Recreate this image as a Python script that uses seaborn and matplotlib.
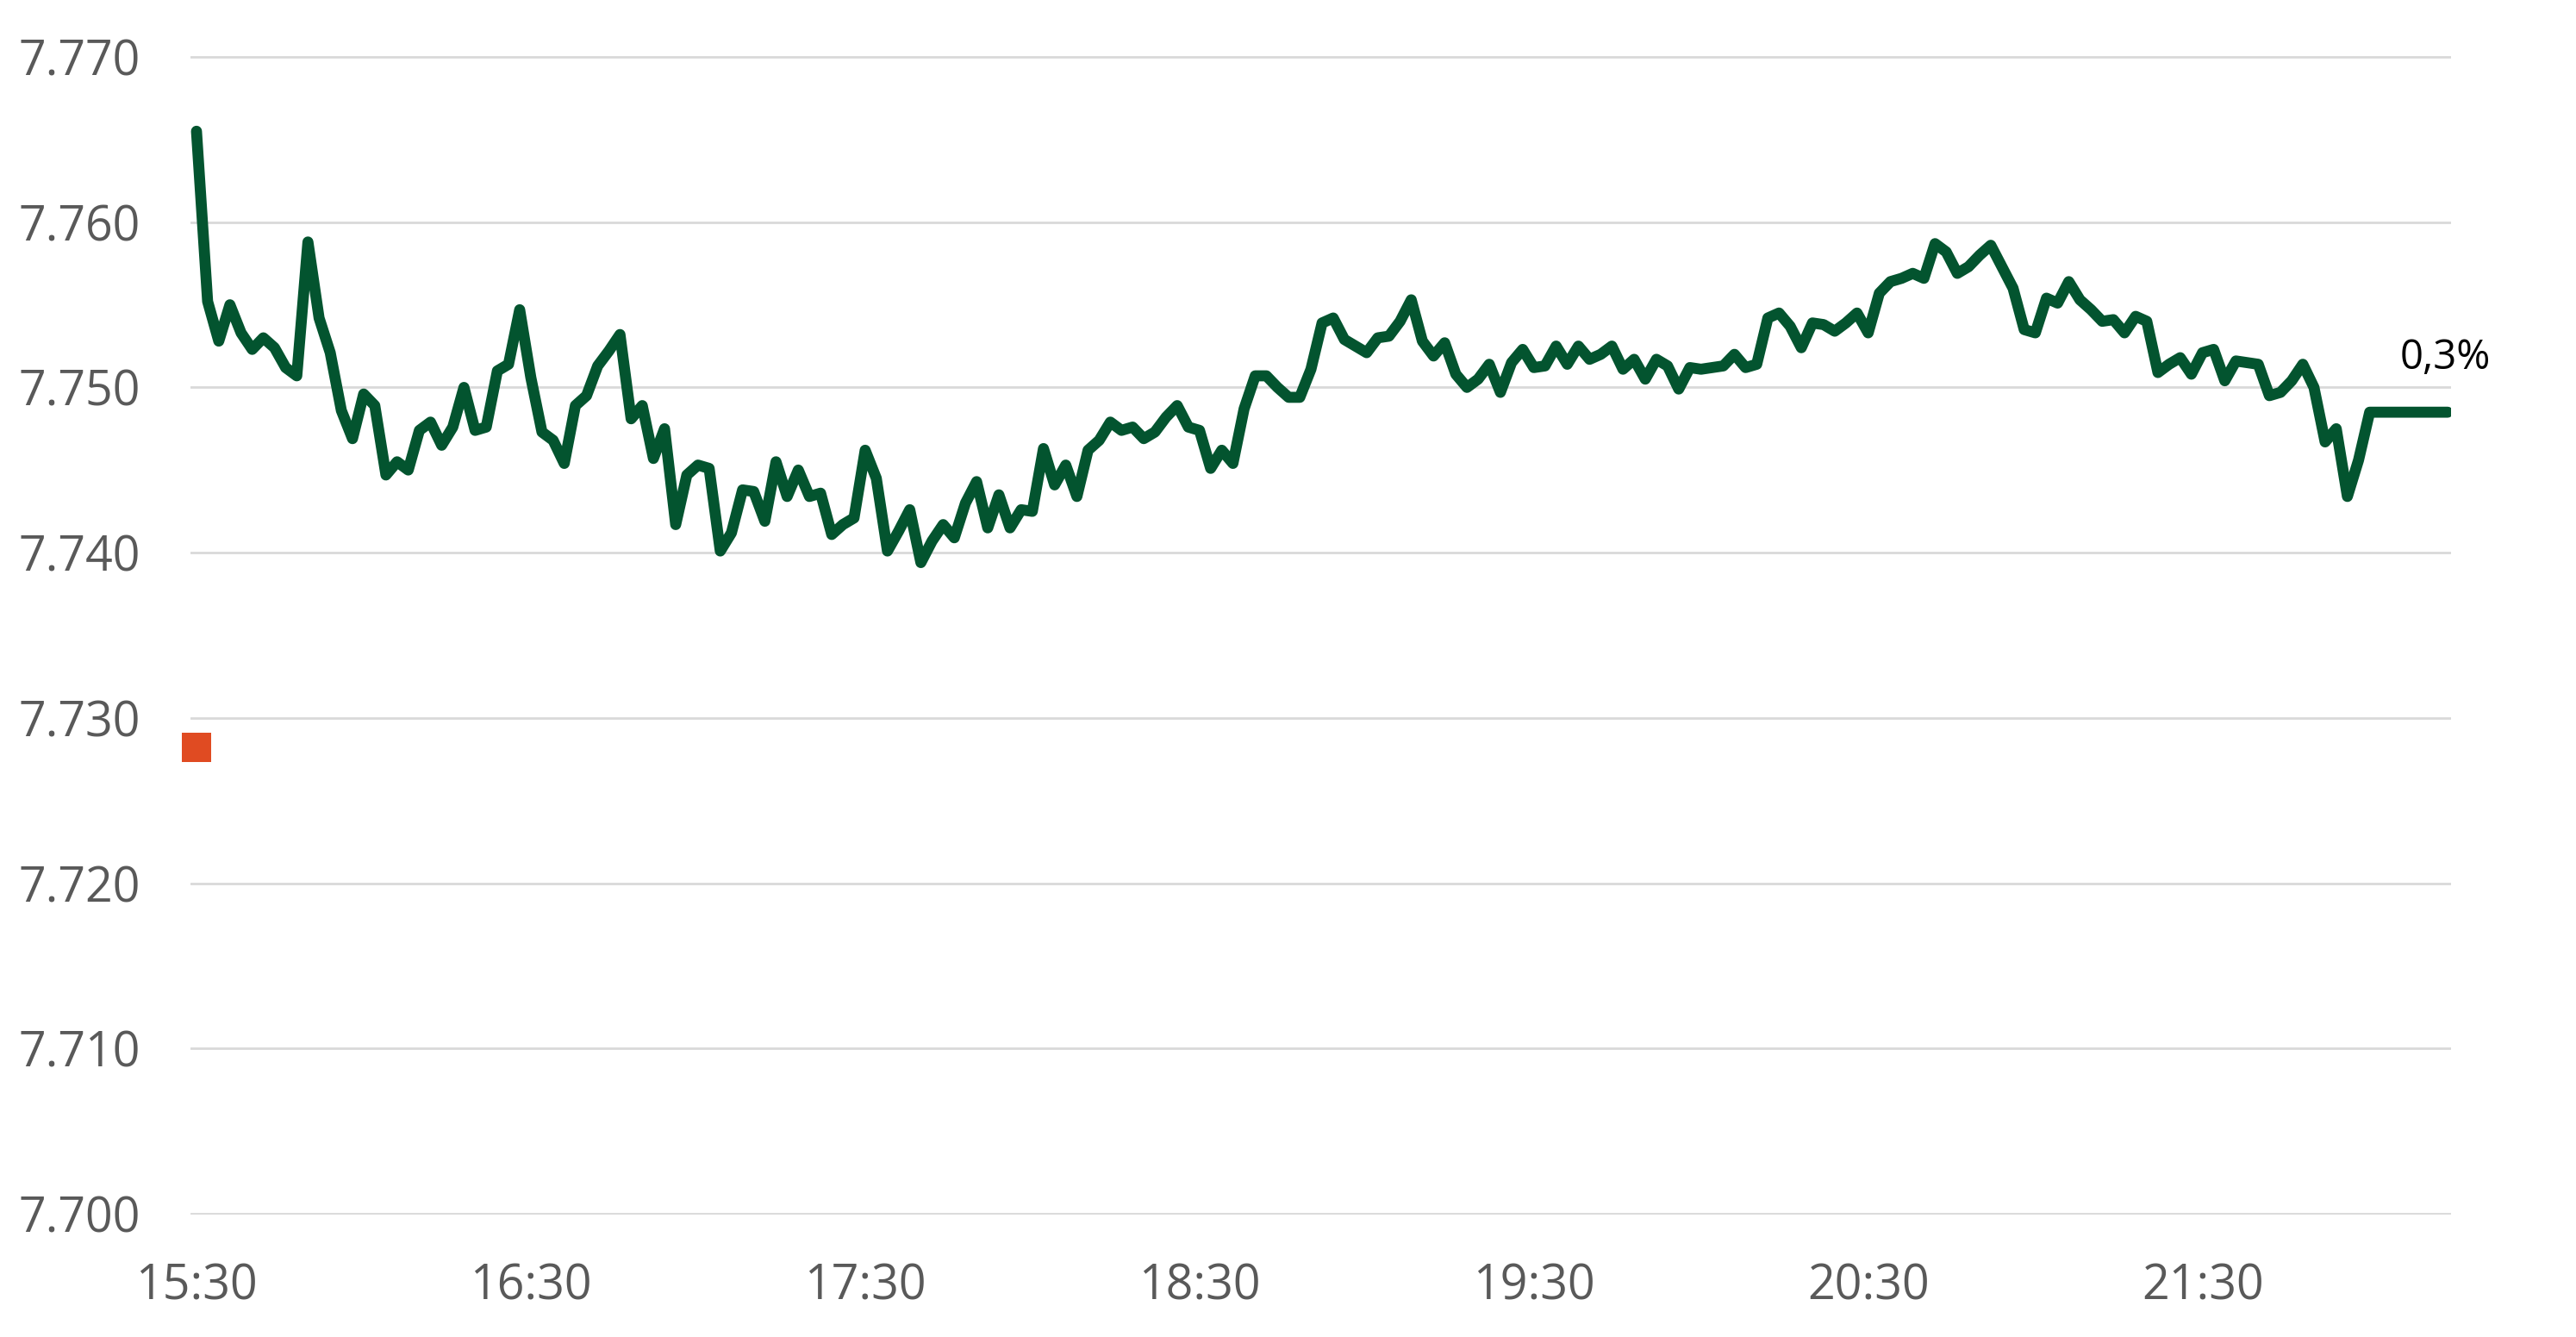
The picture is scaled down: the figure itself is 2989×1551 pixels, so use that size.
import numpy as np
import pandas as pd
import matplotlib
matplotlib.use("Agg")
import matplotlib.pyplot as plt
import seaborn as sns

# --------------------------------------------------
# DATA
# --------------------------------------------------

start_time = "2024-01-01 15:30"
step = "2min"

rate = [
    7.7655, 7.7552, 7.7528, 7.7550, 7.7533, 7.7523, 7.7530, 7.7524, 7.7512, 7.7507,
    7.7588, 7.7542, 7.7521, 7.7486, 7.7469, 7.7496, 7.7489, 7.7447, 7.7455, 7.7450,
    7.7474, 7.7479, 7.7465, 7.7476, 7.7500, 7.7474, 7.7476, 7.7510, 7.7514, 7.7547,
    7.7506, 7.7473, 7.7468, 7.7454, 7.7489, 7.7495, 7.7513, 7.7522, 7.7532, 7.7481,
    7.7489, 7.7457, 7.7475, 7.7417, 7.7447, 7.7453, 7.7451, 7.7401, 7.7412, 7.7438,
    7.7437, 7.7419, 7.7455, 7.7434, 7.7450, 7.7434, 7.7436, 7.7411, 7.7417, 7.7421,
    7.7462, 7.7445, 7.7401, 7.7413, 7.7426, 7.7394, 7.7407, 7.7417, 7.7409, 7.7430,
    7.7443, 7.7415, 7.7435, 7.7415, 7.7426, 7.7425, 7.7463, 7.7441, 7.7453, 7.7434,
    7.7462, 7.7468, 7.7479, 7.7474, 7.7476, 7.7469, 7.7473, 7.7482, 7.7489, 7.7476,
    7.7474, 7.7451, 7.7462, 7.7454, 7.7487, 7.7507, 7.7507, 7.7500, 7.7494, 7.7494,
    7.7511, 7.7539, 7.7542, 7.7529, 7.7525, 7.7521, 7.7530, 7.7531, 7.7540, 7.7553,
    7.7528, 7.7519, 7.7527, 7.7508, 7.7500, 7.7505, 7.7514, 7.7497, 7.7515, 7.7523,
    7.7512, 7.7513, 7.7525, 7.7514, 7.7525, 7.7517, 7.7520, 7.7525, 7.7511, 7.7517,
    7.7505, 7.7517, 7.7513, 7.7499, 7.7512, 7.7511, 7.7512, 7.7513, 7.7520, 7.7512,
    7.7514, 7.7542, 7.7545, 7.7537, 7.7524, 7.7539, 7.7538, 7.7534, 7.7539, 7.7545,
    7.7533, 7.7557, 7.7564, 7.7566, 7.7569, 7.7566, 7.7587, 7.7582, 7.7569, 7.7573,
    7.7580, 7.7586, 7.7573, 7.7560, 7.7535, 7.7533, 7.7554, 7.7551, 7.7564, 7.7553,
    7.7547, 7.7540, 7.7541, 7.7533, 7.7543, 7.7540, 7.7509, 7.7514, 7.7518, 7.7508,
    7.7521, 7.7523, 7.7504, 7.7516, 7.7515, 7.7514, 7.7495, 7.7497, 7.7504, 7.7514,
    7.7500, 7.7467, 7.7475, 7.7434, 7.7456, 7.7485, 7.7485, 7.7485, 7.7485, 7.7485,
    7.7485, 7.7485, 7.7485,
]

open_level = 7.7282
change_label = "0,3%"

y_ticks = [7.700, 7.710, 7.720, 7.730, 7.740, 7.750, 7.760, 7.770]
y_tick_labels = ["7.700", "7.710", "7.720", "7.730", "7.740", "7.750", "7.760", "7.770"]
x_tick_labels = ["15:30", "16:30", "17:30", "18:30", "19:30", "20:30", "21:30"]

line_color = "#03542F"
marker_color = "#E04B22"
grid_color = "#D9D9D9"
label_color = "#595959"

# --------------------------------------------------
# BUILD FRAME
# --------------------------------------------------

times = pd.date_range(start_time, periods=len(rate), freq=step)
df = pd.DataFrame({"time": times, "rate": rate})

x_ticks = pd.to_datetime(["2024-01-01 " + t for t in x_tick_labels])

# --------------------------------------------------
# PLOT
# --------------------------------------------------

sns.set_style("white")
plt.rcParams["font.family"] = ["Open Sans", "DejaVu Sans"]

W, H, DPI = 2989, 1551, 200
fig = plt.figure(figsize=(W / DPI, H / DPI), dpi=DPI)
ax = fig.add_axes([221 / W, 1 - 1409 / H, 2623 / W, 1344 / H])

sns.lineplot(
    data=df,
    x="time",
    y="rate",
    color=line_color,
    linewidth=4.6,
    solid_capstyle="round",
    solid_joinstyle="round",
    ax=ax,
    zorder=3,
)

sns.scatterplot(
    x=times[:1],
    y=[open_level],
    marker="s",
    s=142,
    color=marker_color,
    linewidth=0,
    ax=ax,
    zorder=4,
    clip_on=False,
)

ax.annotate(
    change_label,
    xy=(times[-1], rate[-1]),
    xytext=(-1, 18),
    textcoords="offset points",
    ha="center",
    va="baseline",
    fontsize=17,
    color="black",
)

ax.set_xlim(times[0] - pd.Timedelta(minutes=1.08), times[-1] + pd.Timedelta(minutes=0.6))
ax.set_ylim(7.700 - 0.00005, 7.770 + 0.00005)

ax.set_yticks(y_ticks)
ax.set_yticklabels(y_tick_labels)
ax.set_xticks(x_ticks)
ax.set_xticklabels(x_tick_labels)

ax.yaxis.grid(True, color=grid_color, linewidth=1.0)
ax.xaxis.grid(False)
ax.set_axisbelow(True)

for side in ["top", "right", "bottom", "left"]:
    ax.spines[side].set_visible(False)

ax.tick_params(axis="both", length=0, labelsize=20, labelcolor=label_color)
ax.tick_params(axis="y", pad=21)
ax.tick_params(axis="x", pad=20)

ax.set_xlabel("")
ax.set_ylabel("")

fig.savefig("out.png", dpi=DPI)
plt.close(fig)
